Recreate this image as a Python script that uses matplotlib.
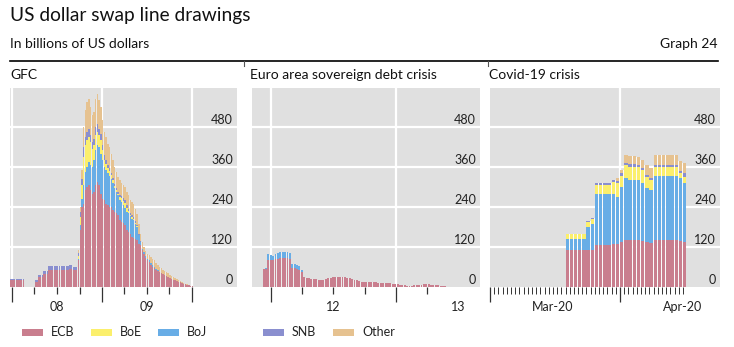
import numpy as np
import pandas as pd
import matplotlib
matplotlib.use("Agg")
import matplotlib.pyplot as plt
import matplotlib.dates as mdates
from matplotlib.patches import Rectangle
from matplotlib.lines import Line2D

plt.rcParams['font.family'] = ['Lato', 'DejaVu Sans']

# ---- data (USD bn outstanding) ----
series_names = ['ECB', 'BoE', 'BoJ', 'SNB', 'Other']

# GFC, weekly from 26 Dec 2007
gfc_start = '2007-12-26'
gfc_ecb = [
    20, 20, 20, 20, 20, 20, 20, 20, 0, 0,
    0, 0, 0, 0, 15, 15, 30, 30, 30, 38,
    38, 38, 50, 50, 50, 50, 50, 50, 50, 50,
    50, 50, 50, 50, 54, 54, 50, 50, 50, 80,
    170, 240, 250, 290, 300, 305, 290, 280, 285, 305,
    315, 305, 280, 265, 260, 250, 246, 240, 240, 230,
    226, 222, 215, 200, 196, 192, 185, 170, 166, 160,
    150, 146, 145, 140, 128, 126, 110, 100, 88, 80,
    75, 66, 60, 57, 52, 48, 44, 41, 39, 37,
    34, 31, 28, 25, 22, 20, 18, 16, 14, 12,
    9, 8, 6, 5, 3, 2]
gfc_boe = [
    0, 0, 0, 0, 0, 0, 0, 0, 0, 0,
    0, 0, 0, 0, 0, 0, 0, 0, 0, 0,
    0, 0, 0, 0, 0, 0, 0, 0, 0, 0,
    0, 0, 0, 0, 0, 0, 0, 0, 0, 8,
    25, 40, 85, 80, 80, 75, 70, 55, 45, 45,
    40, 35, 40, 30, 20, 20, 15, 15, 10, 8,
    6, 5, 4, 8, 10, 12, 15, 12, 8, 5,
    5, 4, 3, 2, 1, 0, 0, 0, 0, 0,
    0, 0, 0, 0, 0, 0, 0, 0, 0, 0,
    0, 0, 0, 0, 0, 0, 0, 0, 0, 0,
    0, 0, 0, 0, 0, 0]
gfc_boj = [
    0, 0, 0, 0, 0, 0, 0, 0, 0, 0,
    0, 0, 0, 0, 0, 0, 0, 0, 0, 0,
    0, 0, 0, 0, 0, 0, 0, 0, 0, 0,
    0, 0, 0, 0, 0, 0, 0, 0, 0, 5,
    15, 25, 55, 55, 60, 70, 75, 80, 95, 105,
    110, 115, 120, 115, 100, 100, 95, 92, 85, 82,
    72, 64, 60, 62, 60, 55, 52, 55, 55, 52,
    55, 55, 45, 40, 28, 10, 5, 4, 4, 5,
    5, 6, 5, 4, 3, 2, 1, 1, 0, 0,
    0, 0, 0, 0, 0, 0, 0, 0, 0, 0,
    0, 0, 0, 0, 0, 0]
gfc_snb = [
    4, 4, 4, 4, 4, 4, 4, 4, 0, 0,
    0, 0, 0, 0, 6, 6, 6, 6, 6, 9,
    9, 9, 12, 12, 12, 12, 12, 12, 12, 12,
    12, 12, 12, 12, 12, 12, 11, 11, 11, 10,
    15, 20, 30, 25, 25, 25, 20, 20, 20, 25,
    25, 20, 20, 15, 15, 12, 10, 10, 8, 8,
    6, 6, 5, 5, 6, 8, 10, 8, 6, 5,
    5, 5, 4, 3, 2, 1, 0, 0, 0, 0,
    0, 0, 0, 0, 0, 0, 0, 0, 0, 0,
    0, 0, 0, 0, 0, 0, 0, 0, 0, 0,
    0, 0, 0, 0, 0, 0]
gfc_other = [
    0, 0, 0, 0, 0, 0, 0, 0, 0, 0,
    0, 0, 0, 0, 0, 0, 0, 0, 0, 0,
    0, 0, 0, 0, 0, 0, 0, 0, 0, 0,
    0, 0, 0, 0, 0, 0, 0, 0, 0, 7,
    15, 25, 60, 80, 90, 90, 85, 80, 80, 85,
    90, 85, 80, 75, 70, 68, 64, 63, 57, 52,
    50, 48, 46, 45, 40, 38, 38, 40, 40, 40,
    40, 40, 38, 35, 31, 23, 20, 16, 16, 15,
    15, 18, 20, 19, 17, 16, 15, 14, 13, 12,
    11, 10, 9, 8, 7, 6, 5, 5, 4, 4,
    3, 2, 2, 1, 1, 0]

# Euro area crisis, weekly from 7 Dec 2011
euro_start = '2011-12-07'
euro_ecb = [
    54, 55, 82, 80, 80, 84, 85, 86, 86, 86,
    86, 85, 56, 56, 55, 52, 45, 30, 27, 26,
    25, 24, 24, 22, 22, 22, 23, 27, 28, 29,
    30, 30, 30, 29, 29, 28, 27, 25, 22, 20,
    18, 16, 15, 15, 14, 14, 14, 14, 13, 13,
    13, 12, 12, 11, 9, 8, 8, 7, 7, 5,
    4, 4, 3, 5, 6, 7, 7, 8, 8, 8,
    7, 7, 6, 5, 4, 3, 2]
euro_boj = [
    0, 3, 16, 16, 12, 16, 17, 18, 18, 18,
    18, 18, 12, 12, 11, 10, 5, 0, 0, 0,
    0, 0, 0, 0, 0, 0, 0, 0, 0, 0,
    0, 0, 0, 0, 0, 0, 0, 0, 0, 0,
    0, 0, 0, 0, 0, 0, 0, 0, 0, 0,
    0, 0, 0, 0, 0, 0, 0, 0, 0, 0,
    0, 0, 0, 0, 0, 0, 0, 0, 0, 0,
    0, 0, 0, 0, 0, 0, 0]

# Covid-19, daily from 19 Mar 2020
covid_start = '2020-03-19'
covid_ecb = [111, 111, 111, 111, 111, 111, 111, 126, 126, 126, 126, 128, 130, 136,
             141, 140, 140, 140, 138, 136, 133, 140, 140, 140, 140, 140, 140, 138, 136]
covid_boe = [15, 15, 15, 15, 15, 15, 15, 27, 27, 27, 27, 35, 42, 32,
             40, 40, 40, 40, 38, 33, 30, 26, 26, 26, 26, 26, 26, 15, 20]
covid_boj = [32, 32, 32, 32, 32, 70, 78, 153, 153, 153, 153, 152, 140, 165,
             185, 181, 181, 180, 175, 160, 158, 193, 193, 193, 193, 193, 193, 188, 175]
covid_snb = [2, 2, 2, 2, 2, 3, 3, 5, 5, 5, 5, 6, 6, 8,
             7, 7, 7, 7, 7, 7, 5, 7, 7, 7, 7, 7, 7, 8, 10]
covid_other = [0, 0, 0, 0, 0, 0, 0, 0, 0, 0, 0, 0, 8, 10,
               23, 26, 26, 24, 23, 30, 30, 30, 30, 30, 30, 30, 30, 30, 30]

y_ticks = [0, 120, 240, 360, 480]

colors = {'ECB': '#c97e8e', 'BoE': '#fbef6c', 'BoJ': '#68ade6',
          'SNB': '#8a8fcf', 'Other': '#e6c290'}
bg = '#e0e0e0'
W, H = 734, 347


def fx(px):
    return px / W


def fy(py):
    return 1 - py / H


fig = plt.figure(figsize=(W / 100, H / 100), dpi=100)


def panel(x0, x1, title, tx):
    ax = fig.add_axes([fx(x0), fy(287), fx(x1) - fx(x0), fy(88) - fy(287)])
    ax.set_facecolor(bg)
    for s in ax.spines.values():
        s.set_visible(False)
    ax.set_ylim(0, 597)
    ax.set_yticks([])
    for v in y_ticks[1:]:
        ax.axhline(v, color='white', lw=1.6, zorder=0.5)
    for v in y_ticks:
        ax.annotate(str(v), xy=(1, v), xycoords=('axes fraction', 'data'),
                    xytext=(-4, 1), textcoords='offset pixels',
                    ha='right', va='bottom', fontsize=9, color='#222222')
    fig.text(fx(tx), fy(75), title, fontsize=10, va='center', ha='left', color='#111111')
    ax.tick_params(axis='x', which='major', direction='out', length=11, width=0.9,
                   color='#333333', labelbottom=False)
    ax.tick_params(axis='x', which='minor', direction='out', length=5, width=0.9,
                   color='#333333')
    return ax


def stack(ax, dates, layers, step, frac, gap_alpha):
    bottom = np.zeros(len(dates))
    for name, vals in layers:
        vals = np.asarray(vals, dtype=float)
        ax.bar(dates, vals, width=step * frac, bottom=bottom, color=colors[name],
               align='edge', linewidth=0, zorder=2)
        bottom += vals
    # light separators between neighbouring bars
    sep = np.minimum(bottom[:-1], bottom[1:])
    ax.bar(dates[:-1] + pd.Timedelta(days=step * frac), sep,
           width=step * (1 - frac), color='white', alpha=gap_alpha,
           align='edge', linewidth=0, zorder=2)


def xlabel(ax, when, text):
    ax.annotate(text, xy=(mdates.date2num(pd.Timestamp(when)), 0),
                xycoords=('data', 'axes fraction'), xytext=(0, -20),
                textcoords='offset pixels', ha='center', va='center',
                fontsize=9, color='#222222')


# GFC
ax1 = panel(10, 237, 'GFC', 10)
d = pd.date_range(gfc_start, periods=len(gfc_ecb), freq='7D')
stack(ax1, d, [('ECB', gfc_ecb), ('BoJ', gfc_boj), ('BoE', gfc_boe),
               ('SNB', gfc_snb), ('Other', gfc_other)], 7, 0.82, 0.35)
ax1.set_xlim(pd.Timestamp('2007-12-24'), pd.Timestamp('2010-07-02'))
years = pd.to_datetime(['2008-01-01', '2009-01-01', '2010-01-01'])
for t in years:
    ax1.axvline(t, color='white', lw=1.6, zorder=0.5)
ax1.set_xticks(years)
ax1.set_xticks(pd.to_datetime(['2008-04-01', '2008-07-01', '2008-10-01',
                               '2009-04-01', '2009-07-01', '2009-10-01']), minor=True)
xlabel(ax1, '2008-07-02', '08')
xlabel(ax1, '2009-07-02', '09')

# Euro area sovereign debt crisis
ax2 = panel(252, 480, 'Euro area sovereign debt crisis', 250)
d = pd.date_range(euro_start, periods=len(euro_ecb), freq='7D')
stack(ax2, d, [('ECB', euro_ecb), ('BoJ', euro_boj)], 7, 0.8, 0.45)
ax2.set_xlim(pd.Timestamp('2011-11-06'), pd.Timestamp('2013-09-03'))
years = pd.to_datetime(['2012-01-01', '2013-01-01'])
for t in years:
    ax2.axvline(t, color='white', lw=1.6, zorder=0.5)
ax2.set_xticks(years)
ax2.set_xticks(pd.to_datetime(['2012-04-01', '2012-07-01', '2012-10-01',
                               '2013-04-01']), minor=True)
xlabel(ax2, '2012-07-02', '12')
xlabel(ax2, '2013-07-02', '13')

# Covid-19 crisis
ax3 = panel(490, 720, 'Covid-19 crisis', 489)
d = pd.date_range(covid_start, periods=len(covid_ecb), freq='D')
stack(ax3, d, [('ECB', covid_ecb), ('BoJ', covid_boj), ('BoE', covid_boe),
               ('SNB', covid_snb), ('Other', covid_other)], 1, 0.8, 0.85)
ax3.set_xlim(pd.Timestamp('2020-03-01'), pd.Timestamp('2020-04-24 20:00'))
months = pd.to_datetime(['2020-03-01', '2020-04-01'])
ax3.axvline(months[1], color='white', lw=1.6, zorder=0.5)
ax3.set_xticks(months)
ax3.set_xticks(pd.date_range('2020-03-02', '2020-04-16', freq='D'), minor=True)
ax3.tick_params(axis='x', which='minor', length=5, width=0.7)
xlabel(ax3, '2020-03-16', 'Mar-20')
xlabel(ax3, '2020-04-16', 'Apr-20')

# header
fig.text(fx(10), fy(16), 'US dollar swap line drawings', fontsize=13.8,
         va='center', ha='left', color='#111111')
fig.text(fx(10), fy(44), 'In billions of US dollars', fontsize=10,
         va='center', ha='left', color='#111111')
fig.text(fx(717), fy(44), 'Graph 24', fontsize=10, va='center', ha='right',
         color='#111111')
fig.add_artist(Line2D([fx(10), fx(718)], [fy(61), fy(61)], color='black', lw=1.2))
for xs in (244, 488):
    fig.add_artist(Line2D([fx(xs), fx(xs)], [fy(61), fy(66)], color='#555555', lw=0.8))

# legend
legend_x = [22, 91, 158, 263, 333]
for name, x in zip(series_names, legend_x):
    fig.add_artist(Rectangle((fx(x), fy(336)), fx(21), fy(329) - fy(336),
                             transform=fig.transFigure, color=colors[name], lw=0))
    fig.text(fx(x + 29), fy(332), name, fontsize=9, va='center', ha='left',
             color='#222222')

fig.savefig('out.png', dpi=100)
